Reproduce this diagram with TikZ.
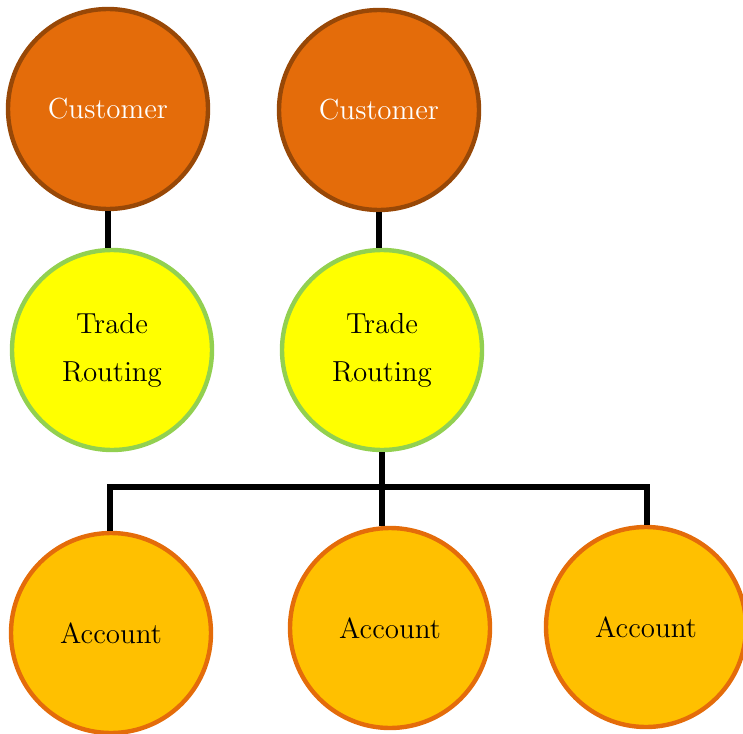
\documentclass[tikz,border=0pt]{standalone}
\usepackage{tikz}
\usetikzlibrary{calc}
\definecolor{custfill}{HTML}{E46C0A}
\definecolor{custline}{HTML}{984807}
\definecolor{tradefill}{HTML}{FFFF00}
\definecolor{tradeline}{HTML}{92D050}
\definecolor{acctfill}{HTML}{FFC000}
\tikzset{
	bubble/.style={circle, minimum size=100pt, line width=2.2pt, inner sep=0pt, align=center, font=\fontsize{14.5}{24}\selectfont},
	customer/.style={bubble, draw=custline, fill=custfill, text=white},
	trade/.style={bubble, draw=tradeline, fill=tradefill},
	account/.style={bubble, draw=custfill, fill=acctfill},
	link/.style={line width=3pt, black}
}

\begin{document}
\begin{tikzpicture}[x=0.5pt, y=-0.5pt]
		%%%%% START %%%%%
		\useasboundingbox (0, 0) rectangle (743, 733);
		
		\node[customer] (cust1) at (108, 109) {Customer};
		\node[customer] (cust2) at (379, 110) {Customer};
		
		\node[trade] (route1) at (112, 350) {Trade\\Routing};
		\node[trade] (route2) at (382, 350) {Trade\\Routing};
		
		\node[account] (acct1) at (111, 633) {Account};
		\node[account] (acct2) at (390, 628) {Account};
		\node[account] (acct3) at (646, 627) {Account};
		
		\coordinate (barL) at (110, 487);
		\coordinate (barR) at (647, 487);
		
		\draw[link] (cust1.south) -- (cust1.south |- route1.north);
		\draw[link] (cust2.south) -- (cust2.south |- route2.north);
		
		\draw[link] (route2.south) -- (route2.south |- acct2.north);
		\draw[link] (barL |- acct1.north) -- (barL) -- (barR) -- (barR |- acct3.north);
		%%%%% END %%%%%
	\end{tikzpicture}
\end{document}
